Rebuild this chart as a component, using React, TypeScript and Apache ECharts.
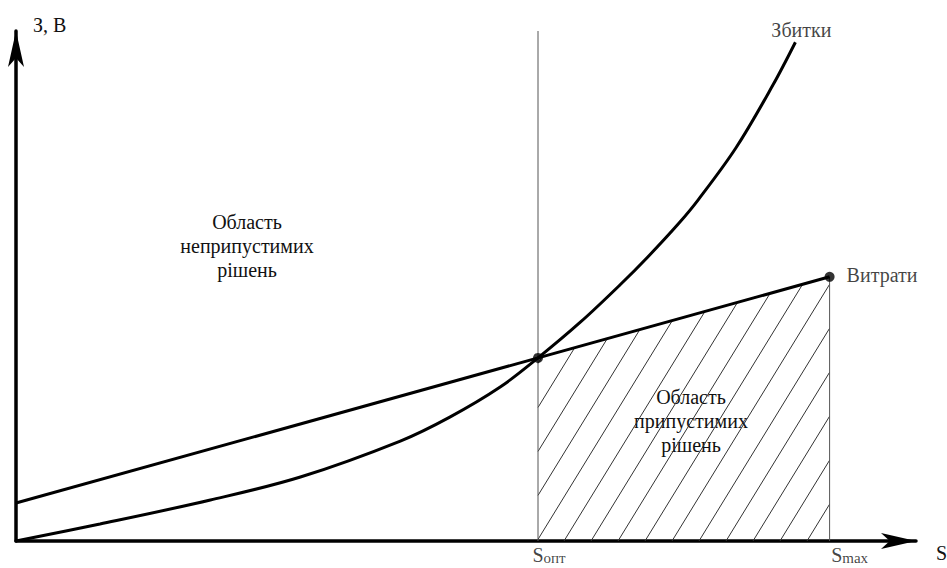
import React, { useEffect, useRef } from "react";
import * as echarts from "echarts";

const X_MAX = 100;
const Y_MAX = 100;
const S_OPT = 58;
const S_MAX = 90.4;
const COST_X = [0, 90.4];
const COST_Y = [7.45, 51.8];
const OPT_VALUE = 35.9;
const LOSS_X = [0, 9.33, 21.6, 31.6, 42.7, 48.2, 53.8, 58, 62.7, 67.1, 70.2, 73.6, 75.8, 80.0, 84.1, 86.6];
const LOSS_Y = [0, 3.33, 8.04, 12.55, 19.6, 24.3, 30.2, 35.9, 42.9, 50.2, 55.7, 62.2, 66.9, 77.1, 89.4, 97.8];
const VLINE_TOP = 100;

const LABEL_COST = "Витрати";
const LABEL_LOSS = "Збитки";
const LABEL_Y = "З, В";
const LABEL_X = "S";
const LABEL_BAD = "Область\nнеприпустимих\nрішень";
const LABEL_GOOD = "Область\nприпустимих\nрішень";
const SUB_OPT = "опт";
const SUB_MAX = "max";

const FAMILY = "Liberation Serif";
const FONT = `20px '${FAMILY}', serif`;

export default function App() {
  const ref = useRef<HTMLDivElement>(null);
  useEffect(() => {
    if (!ref.current) return;
    const chart = echarts.init(ref.current, undefined, { renderer: "svg" });
    const lossData = LOSS_X.map((x, i) => [x, LOSS_Y[i]]);
    const costData = COST_X.map((x, i) => [x, COST_Y[i]]);
    const axisLine = {
      show: true,
      onZero: false,
      lineStyle: { color: "#000", width: 3.5 },
      symbol: ["none", "arrow"],
    };
    const option: any = {
      animation: false,
      backgroundColor: "#fff",
      textStyle: { fontFamily: FAMILY },
      grid: { left: 16, right: 31, top: 31, bottom: 27 },
      xAxis: {
        type: "value",
        min: 0,
        max: X_MAX,
        axisLine: { ...axisLine, symbolSize: [12, 35] },
        axisTick: { show: false },
        axisLabel: { show: false },
        splitLine: { show: false },
      },
      yAxis: {
        type: "value",
        min: 0,
        max: Y_MAX,
        axisLine: { ...axisLine, symbolSize: [12, 36] },
        axisTick: { show: false },
        axisLabel: { show: false },
        splitLine: { show: false },
      },
      graphic: [
        {
          type: "text",
          x: 33,
          y: 25,
          style: { text: LABEL_Y, fill: "#111", font: FONT, textVerticalAlign: "middle" },
        },
        {
          type: "text",
          x: 936,
          y: 553,
          style: { text: LABEL_X, fill: "#111", font: FONT, textVerticalAlign: "middle" },
        },
        {
          type: "text",
          x: 247,
          y: 246,
          style: {
            text: LABEL_BAD,
            fill: "#111",
            font: FONT,
            textAlign: "center",
            textVerticalAlign: "middle",
            lineHeight: 24,
          },
        },
        {
          type: "text",
          x: 691,
          y: 421,
          style: {
            text: LABEL_GOOD,
            fill: "#111",
            font: FONT,
            textAlign: "center",
            textVerticalAlign: "middle",
            lineHeight: 24,
          },
        },
      ],
      series: [
        {
          type: "custom",
          name: "hatch",
          data: [[S_OPT, S_MAX, OPT_VALUE, COST_Y[1]]],
          encode: { x: [0, 1], y: [2, 3] },
          renderItem: (params: any, api: any) => {
            const p1 = api.coord([api.value(0), 0]);
            const p2 = api.coord([api.value(0), api.value(2)]);
            const p3 = api.coord([api.value(1), api.value(3)]);
            const p4 = api.coord([api.value(1), 0]);
            const xl = p1[0];
            const xr = p4[0];
            const yb = p1[1];
            const hl = yb - p2[1];
            const hr = yb - p3[1];
            const s = (hr - hl) / (xr - xl);
            const r = 0.614;
            const step = 27;
            const children: any[] = [];
            for (let x0 = xl - 1 - step * 20; x0 <= xr; x0 += step) {
              const tMin = Math.max(0, (xl - x0) / r);
              const tMax = Math.min((xr - x0) / r, (hl + s * (x0 - xl)) / (1 - s * r));
              if (tMax > tMin + 0.5) {
                children.push({
                  type: "line",
                  shape: { x1: x0 + r * tMin, y1: yb - tMin, x2: x0 + r * tMax, y2: yb - tMax },
                  style: { stroke: "#333", lineWidth: 1 },
                });
              }
            }
            return { type: "group", children };
          },
          z: 1,
        },
        {
          type: "line",
          name: "vopt",
          data: [
            [S_OPT, 0],
            [S_OPT, VLINE_TOP],
          ],
          symbol: "none",
          clip: false,
          lineStyle: { color: "#555", width: 1 },
          z: 2,
        },
        {
          type: "line",
          name: "vmax",
          data: [
            [S_MAX, 0],
            [S_MAX, COST_Y[1]],
          ],
          symbol: "none",
          lineStyle: { color: "#555", width: 1 },
          z: 2,
        },
        {
          type: "line",
          name: LABEL_COST,
          data: costData,
          symbol: "none",
          lineStyle: { color: "#000", width: 3 },
          z: 3,
        },
        {
          type: "line",
          name: LABEL_LOSS,
          data: lossData,
          symbol: "none",
          smooth: 0.35,
          lineStyle: { color: "#000", width: 3 },
          z: 3,
        },
        {
          type: "scatter",
          name: "points",
          data: [
            [S_OPT, OPT_VALUE],
            {
              value: [S_MAX, COST_Y[1]],
              label: {
                show: true,
                position: "right",
                distance: 12,
                offset: [0, -2],
                formatter: LABEL_COST,
                color: "#111",
                fontSize: 20,
                fontFamily: FAMILY,
              },
            },
          ],
          symbolSize: 10,
          itemStyle: { color: "#000" },
          z: 4,
        },
        {
          type: "scatter",
          name: "labels",
          symbolSize: 0,
          data: [
            {
              value: lossData[lossData.length - 1],
              label: {
                show: true,
                position: "top",
                distance: 2,
                offset: [6, 0],
                formatter: LABEL_LOSS,
                color: "#111",
                fontSize: 20,
                fontFamily: FAMILY,
              },
            },
            {
              value: [S_OPT, 0],
              label: {
                show: true,
                position: "bottom",
                distance: 4,
                offset: [11, 0],
                formatter: `{a|S}{b|${SUB_OPT}}`,
              },
            },
            {
              value: [S_MAX, 0],
              label: {
                show: true,
                position: "bottom",
                distance: 4,
                offset: [20, 0],
                formatter: `{a|S}{b|${SUB_MAX}}`,
              },
            },
          ],
          label: {
            rich: {
              a: { fontSize: 20, fontFamily: FAMILY, color: "#111" },
              b: { fontSize: 15, fontFamily: FAMILY, color: "#111", verticalAlign: "bottom" },
            },
          },
          z: 4,
        },
      ],
    };
    chart.setOption(option);
    return () => chart.dispose();
  }, []);
  return (
    <div
      ref={ref}
      style={{ position: "fixed", left: 0, top: 0, width: 947, height: 568, background: "#fff" }}
    />
  );
}
